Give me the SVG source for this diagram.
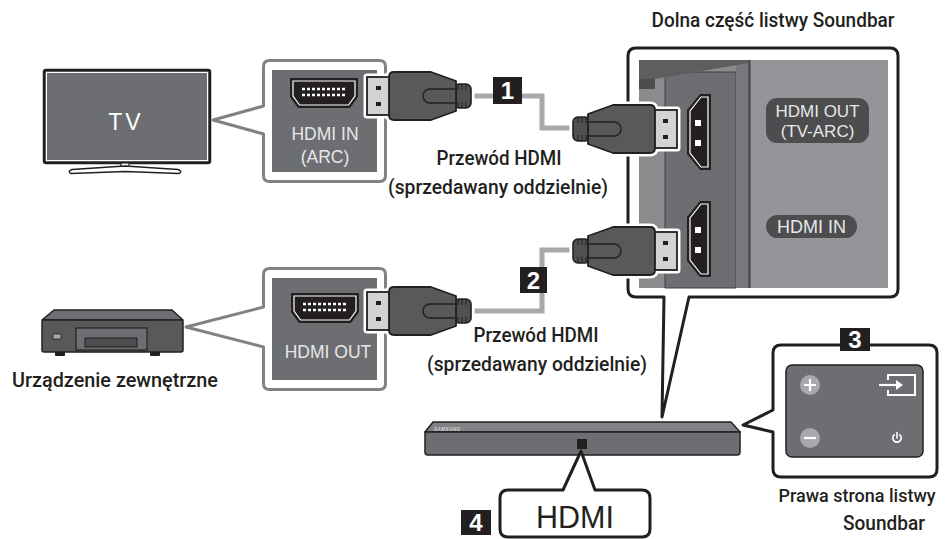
<svg xmlns="http://www.w3.org/2000/svg" width="947" height="539" viewBox="0 0 947 539">
<defs>
<style>
.lbl{font-family:Roboto,"Liberation Sans",Arial,sans-serif;font-size:21px;font-weight:500;fill:#231f20;text-anchor:middle}
.lbl-s{font-size:18px}
.ptxt{font-family:"Liberation Sans",Arial,sans-serif;fill:#e6e7e8;text-anchor:middle}
.num{fill:#231f20}
.numt{font-family:"Liberation Sans",Arial,sans-serif;font-weight:700;font-size:24px;fill:#fff;text-anchor:middle}
.edge{fill:#fff;stroke:#231f20;stroke-width:3;stroke-linejoin:round}
.gedge{fill:#fff;stroke:#808285;stroke-width:3;stroke-linejoin:round}
.cable{fill:none;stroke:#a7a9ac;stroke-width:5}
.dark{fill:#6d6e71}
</style>
<!-- HDMI plug, contacts pointing to +x, centred on y=0 -->
<g id="plug">
  <g fill="#fff" stroke="#fff" stroke-width="7" stroke-linejoin="round">
    <rect x="-104" y="-12" width="17" height="24" rx="5"/>
    <path d="M-89,-15 L-64,-24 H-27 Q-22,-24 -22,-19 V19 Q-22,24 -27,24 H-64 L-89,15 Z"/>
    <rect x="-22" y="-19" width="22" height="38"/>
  </g>
  <rect x="-104" y="-12" width="17" height="24" rx="5" fill="#4f5052" stroke="#231f20" stroke-width="1.6"/>
  <path d="M-99,-12 V-6 M-95,-12 V-6 M-91,-12 V-6 M-99,6 V12 M-95,6 V12 M-91,6 V12" stroke="#231f20" stroke-width="1"/>
  <path d="M-89,-15 L-64,-24 H-27 Q-22,-24 -22,-19 V19 Q-22,24 -27,24 H-64 L-89,15 Z" fill="#58595b" stroke="#231f20" stroke-width="1.8" stroke-linejoin="round"/>
  <path d="M-88,-7 H-63 A7,7 0 0 1 -63,7 H-88" fill="none" stroke="#231f20" stroke-width="1.4"/>
  <rect x="-22" y="-19" width="22" height="38" fill="#d1d3d4" stroke="#231f20" stroke-width="1.8"/>
  <rect x="-14" y="-10" width="5" height="4" fill="#231f20"/>
  <rect x="-14" y="6" width="5" height="4" fill="#231f20"/>
</g>
<!-- horizontal HDMI socket -->
<g id="port-h">
  <path d="M0,0 H68 V19 L60,30 H8 L0,19 Z" fill="#231f20"/>
  <path d="M3,3 H65 V18 L58.5,27 H9.5 L3,18 Z" fill="none" stroke="#fff" stroke-width="1.2"/>
  <path d="M12,11 H57 M12,17 H57" stroke="#fff" stroke-width="2.5" stroke-dasharray="3 2"/>
</g>
<!-- vertical HDMI socket -->
<g id="port-v">
  <path d="M24,0 V76 H13 L0,60 V16 L13,0 Z" fill="#231f20"/>
  <path d="M21,3 V73 H14 L3,59 V17 L14,3 Z" fill="none" stroke="#fff" stroke-width="1.2"/>
  <rect x="8" y="26" width="6" height="6" fill="#fff"/>
  <rect x="8" y="46" width="6" height="6" fill="#fff"/>
</g>
</defs>

<rect width="947" height="539" fill="#fff"/>

<!-- TV -->
<g id="tv">
  <rect x="44" y="70" width="166" height="93" rx="2" fill="#6d6e71" stroke="#231f20" stroke-width="2.5"/>
  <rect x="46.5" y="72.5" width="161" height="88" fill="none" stroke="#fff" stroke-width="1"/>
  <rect x="121" y="163" width="8" height="4" fill="#fff" stroke="#231f20" stroke-width="1.2"/>
  <path d="M125,166 L72,169.5 Q67,171.5 71,173.5 L125,171.5 L179,173.5 Q183,171.5 178,169.5 Z" fill="#fff" stroke="#231f20" stroke-width="1.4" stroke-linejoin="round"/>
  <text x="126" y="130" font-family="Liberation Sans, Arial, sans-serif" font-size="23" fill="#fff" text-anchor="middle" letter-spacing="3">TV</text>
</g>

<!-- TV input panel -->
<g id="tv-hdmi-in">
  <path class="gedge" d="M263.5,106 L213,120 L263.5,134 V175.5 Q263.5,181.5 269.5,181.5 H379.5 Q385.5,181.5 385.5,175.5 V66.5 Q385.5,60.5 379.5,60.5 H269.5 Q263.5,60.5 263.5,66.5 Z"/>
  <rect class="dark" x="272" y="70" width="105" height="102"/>
  <use href="#port-h" x="290" y="78"/>
  <text class="ptxt" x="325" y="140" font-size="17.5">HDMI IN</text>
  <text class="ptxt" x="325" y="163" font-size="17.5">(ARC)</text>
</g>

<!-- external device -->
<g id="external-device">
  <rect x="55" y="351" width="10" height="5" rx="1" fill="#231f20"/>
  <rect x="150" y="351" width="10" height="5" rx="1" fill="#231f20"/>
  <path d="M42,320 L54,310 H172 L183,320 Z" fill="#6d6e71" stroke="#231f20" stroke-width="1.5" stroke-linejoin="round"/>
  <rect x="42" y="320" width="141" height="32" rx="2" fill="#58595b" stroke="#231f20" stroke-width="1.5"/>
  <rect x="53" y="334" width="8" height="5" fill="#a7a9ac" stroke="#231f20" stroke-width="0.8"/>
  <rect x="76" y="328" width="71" height="22" fill="#6d6e71" stroke="#231f20" stroke-width="1.2"/>
  <rect x="85" y="338" width="52" height="9" fill="#4d4d4f" stroke="#231f20" stroke-width="1"/>
</g>

<!-- device output panel -->
<g id="device-hdmi-out">
  <path class="gedge" d="M263.5,307 L186,327 L263.5,347 V383.5 Q263.5,389.5 269.5,389.5 H379.5 Q385.5,389.5 385.5,383.5 V274.5 Q385.5,268.5 379.5,268.5 H269.5 Q263.5,268.5 263.5,274.5 Z"/>
  <rect class="dark" x="272" y="278" width="105" height="102"/>
  <use href="#port-h" x="291" y="293"/>
  <text class="ptxt" x="328" y="358" font-size="17.5">HDMI OUT</text>
</g>

<!-- underside of the soundbar -->
<g id="soundbar-bottom">
  <path class="edge" d="M664,297 L662,417 L689,297 H890 Q898,297 898,289 V56 Q898,48 890,48 H636 Q628,48 628,56 V289 Q628,297 636,297 Z"/>
  <rect x="639" y="60" width="249" height="228" fill="#939598"/>
  <rect x="639" y="60" width="111" height="228" fill="#8a8b8d"/>
  <path d="M665,288 V80 Q665,72 673,72 H736 V288 Z" fill="#6d6e71" stroke="#414042" stroke-width="1"/>
  <rect x="736" y="60" width="13" height="228" fill="#77787b"/>
  <path d="M639,60 H749 V63 L655,79 H639 Z" fill="#5d5e60"/>
  <rect x="639" y="79" width="16" height="10" fill="#4d4d4f"/>
  <line x1="749.5" y1="60" x2="749.5" y2="288" stroke="#414042" stroke-width="2"/>
  <use href="#port-v" x="687" y="94"/>
  <use href="#port-v" x="687" y="201"/>
  <rect x="766" y="98" width="103" height="45" rx="11" fill="#4d4d4f"/>
  <text class="ptxt" x="817.5" y="117" font-size="17">HDMI OUT</text>
  <text class="ptxt" x="817.5" y="137" font-size="17">(TV-ARC)</text>
  <rect x="766" y="215" width="91" height="23" rx="11.5" fill="#4d4d4f"/>
  <text class="ptxt" x="811.5" y="233" font-size="18">HDMI IN</text>
</g>

<!-- soundbar -->
<g id="soundbar">
  <path d="M425,432 L433,422 H731 L740,432 Z" fill="#808285" stroke="#231f20" stroke-width="1.5" stroke-linejoin="round"/>
  <path d="M425,432 H740 V452 Q740,455 737,455 H428 Q425,455 425,452 Z" fill="#6d6e71" stroke="#231f20" stroke-width="1.5"/>
  <text x="434" y="430.5" font-family="Liberation Sans, Arial, sans-serif" font-size="4.5" font-weight="700" font-style="italic" fill="#d1d3d4" textLength="26">SAMSUNG</text>
  <rect x="577" y="439" width="10" height="10" fill="#231f20"/>
</g>

<!-- side control panel -->
<g id="side-panel">
  <path class="edge" d="M773,410 L743,425 L773,432 V469 Q773,477 781,477 H929 Q937,477 937,469 V353 Q937,345 929,345 H781 Q773,345 773,353 Z"/>
  <rect x="786" y="365" width="137" height="92" rx="6" fill="#6d6e71" stroke="#231f20" stroke-width="1.5"/>
  <circle cx="810" cy="385" r="10" fill="#a7a9ac"/>
  <path d="M804,385 H816 M810,379 V391" stroke="#fff" stroke-width="2.2"/>
  <circle cx="810" cy="438" r="10" fill="#a7a9ac"/>
  <path d="M804,438 H816" stroke="#fff" stroke-width="2.2"/>
  <path d="M888,380 V375 H915 V395 H888 V390" fill="none" stroke="#fff" stroke-width="2"/>
  <path d="M879,385 H898" stroke="#fff" stroke-width="2.2"/>
  <path d="M896,380 L903,385 L896,390 Z" fill="#fff"/>
  <path d="M894.2,434.8 A4.2,4.2 0 1 0 899.8,434.8 M897,432.5 V438" fill="none" stroke="#fff" stroke-width="1.6" stroke-linecap="round"/>
  <rect class="num" x="840" y="328" width="30" height="23"/>
  <text class="numt" x="855" y="348">3</text>
</g>

<!-- HDMI connector callout -->
<g id="hdmi-callout">
  <path class="edge" d="M563,490 L581,451 L595,490 H642 Q650,490 650,498 V529 Q650,537 642,537 H508 Q500,537 500,529 V498 Q500,490 508,490 Z"/>
  <text x="575" y="528" font-family="Liberation Sans, Arial, sans-serif" font-size="31" fill="#231f20" text-anchor="middle" textLength="78" lengthAdjust="spacingAndGlyphs">HDMI</text>
  <rect class="num" x="461" y="510" width="30" height="25"/>
  <text class="numt" x="476" y="531">4</text>
</g>

<!-- cables -->
<g id="connectors">
  <path class="cable" d="M468,96 H542 V128 H576"/>
  <path class="cable" d="M468,311 H542 V250 H576"/>
  <use href="#plug" transform="translate(367,96) scale(-1,1)"/>
  <use href="#plug" transform="translate(367,311) scale(-1,1)"/>
  <use href="#plug" transform="translate(677,129)"/>
  <use href="#plug" transform="translate(677,251)"/>
  <rect class="num" x="493" y="77" width="29" height="27"/>
  <text class="numt" x="507.5" y="99">1</text>
  <rect class="num" x="520" y="267" width="27" height="26"/>
  <text class="numt" x="533.5" y="289">2</text>
</g>

<!-- captions -->
<g id="captions">
  <text class="lbl" x="773" y="27" textLength="243" lengthAdjust="spacingAndGlyphs">Dolna część listwy Soundbar</text>
  <text class="lbl" x="499" y="165" textLength="125" lengthAdjust="spacingAndGlyphs">Przewód HDMI</text>
  <text class="lbl" x="498" y="194" textLength="220" lengthAdjust="spacingAndGlyphs">(sprzedawany oddzielnie)</text>
  <text class="lbl" x="536" y="342" textLength="125" lengthAdjust="spacingAndGlyphs">Przewód HDMI</text>
  <text class="lbl" x="537" y="371" textLength="220" lengthAdjust="spacingAndGlyphs">(sprzedawany oddzielnie)</text>
  <text class="lbl" x="115" y="387" textLength="206" lengthAdjust="spacingAndGlyphs">Urządzenie zewnętrzne</text>
  <text class="lbl lbl-s" x="857" y="502">Prawa strona listwy</text>
  <text class="lbl" x="884" y="530" textLength="82" lengthAdjust="spacingAndGlyphs">Soundbar</text>
</g>
</svg>
